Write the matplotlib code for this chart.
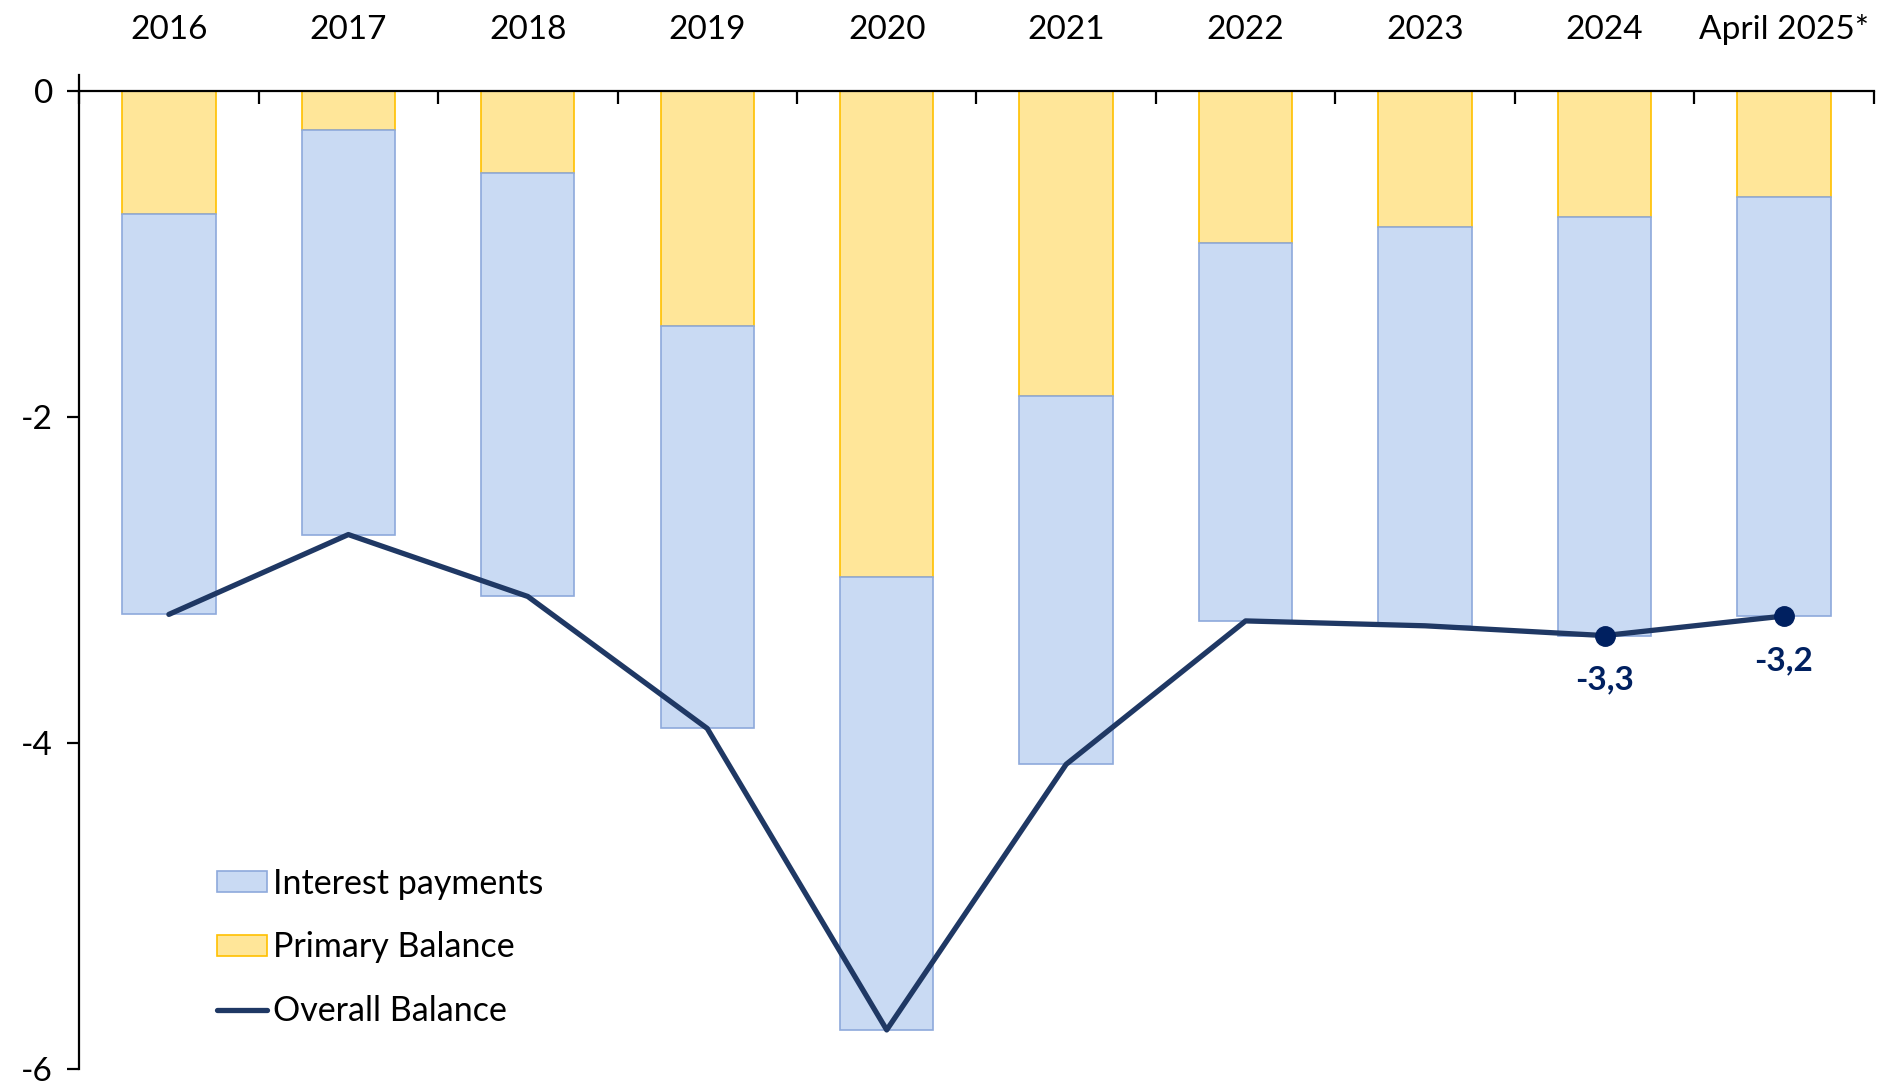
import numpy as np
import matplotlib.pyplot as plt
from matplotlib.patches import Patch
from matplotlib.lines import Line2D

plt.rcParams['font.family'] = ['Lato', 'DejaVu Sans']

years = ['2016', '2017', '2018', '2019', '2020', '2021', '2022', '2023', '2024', 'April 2025*']
primary = [-0.75, -0.24, -0.50, -1.44, -2.98, -1.87, -0.93, -0.83, -0.77, -0.65]
interest = [-2.46, -2.48, -2.60, -2.47, -2.78, -2.26, -2.32, -2.45, -2.57, -2.57]
overall = [p + i for p, i in zip(primary, interest)]

# only the last two points get a marker and value label
labelled = [8, 9]

blue_fill, blue_edge = '#C9DAF3', '#8EA9DB'
yellow_fill, yellow_edge = '#FFE699', '#FFC000'
navy = '#1F3864'
label_navy = '#002060'

fig = plt.figure(figsize=(18.85, 10.84), dpi=100)
ax = fig.add_axes([0.042, 0.0138, 0.952, 0.917])

x = np.arange(len(years))
w = 0.52
ax.bar(x, primary, w, color=yellow_fill, edgecolor=yellow_edge, linewidth=1.2, zorder=2)
ax.bar(x, interest, w, bottom=primary, color=blue_fill, edgecolor=blue_edge, linewidth=1.2, zorder=2)
ax.plot(x, overall, color=navy, linewidth=3.8, solid_capstyle='round', zorder=3)

for k in labelled:
    ax.plot(x[k], overall[k], 'o', color=label_navy, markersize=14, zorder=4)
    ax.annotate(f'{overall[k]:.1f}'.replace('.', ','), (x[k], overall[k]),
                xytext=(0, -32), textcoords='offset points', ha='center', va='center',
                fontsize=24, fontweight='bold', color=label_navy, zorder=5)

ax.set_xlim(-0.5, len(years) - 0.5)
ax.set_ylim(-6, 0.1)

# category axis runs along zero with labels on top
for s in ['right', 'bottom']:
    ax.spines[s].set_visible(False)
ax.spines['top'].set_position(('data', 0))
ax.spines['top'].set_linewidth(1.6)
ax.spines['left'].set_linewidth(1.6)
ax.xaxis.set_ticks_position('top')
ax.set_xticks(x)
ax.set_xticklabels(years)
ax.set_xticks(np.arange(-0.5, len(years)), minor=True)
ax.tick_params(axis='x', which='major', length=0, pad=33, labelsize=24)
ax.tick_params(axis='x', which='minor', direction='in', length=9, width=1.6)

ax.set_yticks([0, -2, -4, -6])
ax.set_yticklabels(['0', '-2', '-4', '-6'])
ax.tick_params(axis='y', length=9, width=1.6, labelsize=24, pad=10)

handles = [Patch(facecolor=blue_fill, edgecolor=blue_edge, linewidth=1.2),
           Patch(facecolor=yellow_fill, edgecolor=yellow_edge, linewidth=1.2),
           Line2D([], [], color=navy, linewidth=3.8, solid_capstyle='round')]
ax.legend(handles, ['Interest payments', 'Primary Balance', 'Overall Balance'],
          loc='upper left', bbox_to_anchor=(0.06, 0.2335), frameon=False,
          fontsize=24.5, handlelength=1.47, handleheight=0.56, handletextpad=0.15,
          labelspacing=0.93)

fig.savefig('out.png', dpi=100)
